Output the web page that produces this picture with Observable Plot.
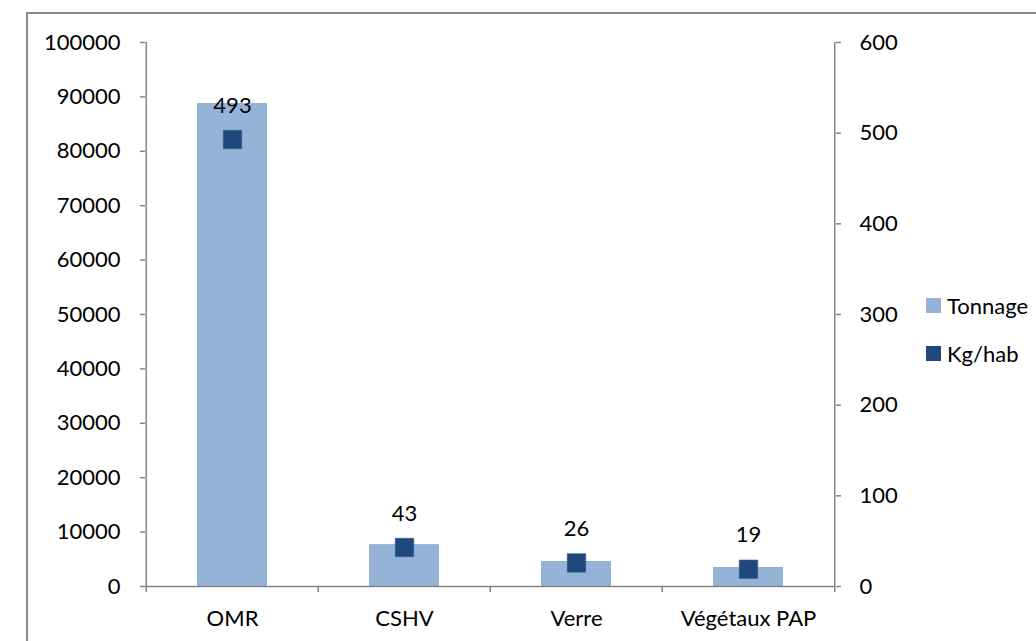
<!DOCTYPE html>
<html>
<head>
<meta charset="utf-8">
<script src="https://cdn.jsdelivr.net/npm/d3@7"></script>
<script src="https://cdn.jsdelivr.net/npm/@observablehq/plot@0.6"></script>
<style>
  html, body { margin: 0; padding: 0; background: #fff; overflow: hidden; }
  #wrap { position: relative; width: 1036px; height: 641px; overflow: hidden; font-family: Lato, "Open Sans", sans-serif; }
  #border { position: absolute; left: 26px; top: 12px; width: 1100px; height: 700px; border: 2px solid #8c8c8c; box-sizing: border-box; }
  #chart { position: absolute; left: 0; top: 0; }
  .leg { position: absolute; display: flex; align-items: center; font-size: 22px; color: #000; }
  .leg span.sw { display: inline-block; width: 15px; height: 15px; margin-right: 6px; }
</style>
</head>
<body>
<div id="wrap">
  <div id="border"></div>
  <div id="chart"></div>
  <div class="leg" style="left:926px; top:292px;"><span class="sw" style="background:#95b3d7"></span>Tonnage</div>
  <div class="leg" style="left:926px; top:340px;"><span class="sw" style="background:#1f497d"></span>Kg/hab</div>
</div>
<script>
const categories = ["OMR", "CSHV", "Verre", "Végétaux PAP"];
const tonnage = [88800, 7700, 4600, 3500];
const kgHab = [493, 43, 26, 19];
const leftTicks = [0, 10000, 20000, 30000, 40000, 50000, 60000, 70000, 80000, 90000, 100000];
const rightTicks = [0, 100, 200, 300, 400, 500, 600];

const leftMax = 100000, rightMax = 600;
const toLeft = v => v * leftMax / rightMax;

const rows = categories.map((c, i) => ({cat: c, t: tonnage[i], k: kgHab[i], ky: toLeft(kgHab[i])}));

const W = 1036, H = 641;
const mL = 145, mR = W - 835, mT = 42, mB = H - 586;
const bw = (W - mL - mR) / categories.length;
const gray = "#868686";

const plot = Plot.plot({
  width: W,
  height: H,
  marginLeft: mL,
  marginRight: mR,
  marginTop: mT,
  marginBottom: mB,
  style: {fontFamily: "Lato, 'Open Sans', sans-serif", fontSize: "22px", color: "#000", background: "transparent", overflow: "visible"},
  x: {domain: categories, padding: 0, label: null},
  y: {domain: [0, leftMax], label: null},
  marks: [
    Plot.barY(rows, {x: "cat", y: "t", fill: "#95b3d7", insetLeft: 51, insetRight: 51}),
    // axis lines
    Plot.ruleX([categories[0]], {x: d => d, dx: -bw / 2, stroke: gray, strokeWidth: 1.5}),
    Plot.ruleX([categories[categories.length - 1]], {x: d => d, dx: bw / 2, stroke: gray, strokeWidth: 1.5}),
    Plot.ruleY([0], {stroke: gray, strokeWidth: 1.5}),
    // category boundary ticks
    Plot.ruleX(categories, {x: d => d, y1: 0, y2: 0, insetBottom: -6, dx: -bw / 2, stroke: gray, strokeWidth: 1.5}),
    Plot.ruleX([categories[categories.length - 1]], {x: d => d, y1: 0, y2: 0, insetBottom: -6, dx: bw / 2, stroke: gray, strokeWidth: 1.5}),
    Plot.axisY({anchor: "left", ticks: leftTicks, tickFormat: d3.format("d"), tickSize: 5, tickPadding: 20, stroke: gray, strokeWidth: 1.5, label: null}),
    Plot.axisY({anchor: "right", ticks: rightTicks.map(toLeft), tickFormat: d => String(Math.round(d * rightMax / leftMax)), tickSize: 5, tickPadding: 19, stroke: gray, strokeWidth: 1.5, label: null}),
    Plot.axisX({anchor: "bottom", tickSize: 0, tickPadding: 24, label: null}),
    Plot.dot(rows, {x: "cat", y: "ky", symbol: "square", r: 10.5, fill: "#1f497d", stroke: "#3a64a0", strokeWidth: 0.5}),
    Plot.text(rows, {x: "cat", y: "ky", text: d => String(d.k), dy: -34, fill: "#000", fontSize: 22, lineAnchor: "middle"})
  ]
});
document.getElementById("chart").appendChild(plot);
</script>
</body>
</html>
